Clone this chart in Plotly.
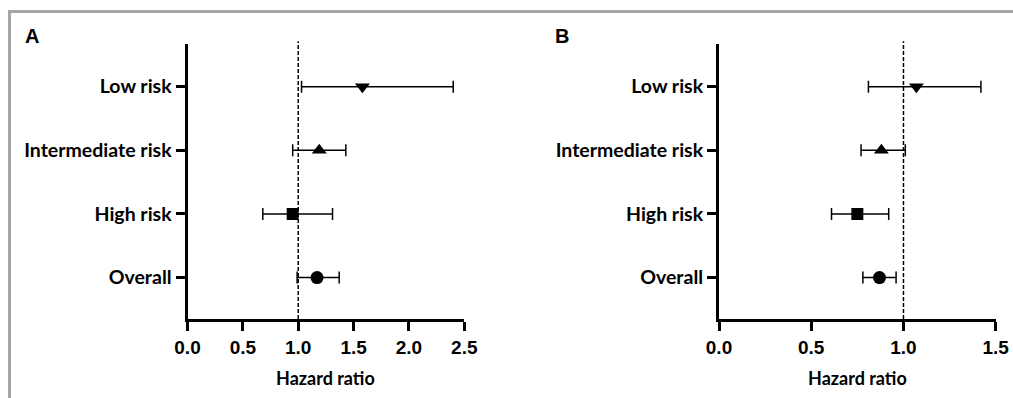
import plotly.graph_objects as go

# ---- data ----
categories = ["Overall", "High risk", "Intermediate risk", "Low risk"]

hr_a = [1.17, 0.95, 1.19, 1.58]
lo_a = [0.99, 0.68, 0.95, 1.03]
hi_a = [1.37, 1.31, 1.43, 2.40]

hr_b = [0.87, 0.75, 0.88, 1.07]
lo_b = [0.78, 0.61, 0.77, 0.81]
hi_b = [0.96, 0.92, 1.01, 1.42]

xticks_a = [0.0, 0.5, 1.0, 1.5, 2.0, 2.5]
xticks_b = [0.0, 0.5, 1.0, 1.5]
panel_labels = ["A", "B"]
x_title = "Hazard ratio"
ref_line = 1.0

# ---- style ----
W, H = 1013, 398
symbols = ["circle", "square", "triangle-up", "triangle-down"]
sizes = [13, 12, 13, 13]
CAT_FONT = dict(family="Lato", size=19.5, color="black", weight="bold")
NUM_FONT = dict(family="Liberation Sans", size=19, color="black", weight="bold")


def px_x(p):
    return p / W


def px_y(p):
    return 1 - p / H


fig = go.Figure()


def add_panel(hr, lo, hi, xa, ya):
    fig.add_trace(go.Scatter(
        x=hr, y=categories, mode="markers",
        xaxis=xa, yaxis=ya,
        marker=dict(symbol=symbols, size=sizes, color="black", opacity=1,
                    line=dict(width=0)),
        error_x=dict(type="data",
                     array=[h - v for h, v in zip(hi, hr)],
                     arrayminus=[v - l for v, l in zip(hr, lo)],
                     color="black", thickness=1.5, width=6),
        showlegend=False, hoverinfo="x+y",
    ))


add_panel(hr_a, lo_a, hi_a, "x", "y")
add_panel(hr_b, lo_b, hi_b, "x2", "y2")

ydom = [px_y(319), px_y(44)]
common_x = dict(showline=True, linewidth=3, linecolor="black", showgrid=False,
                zeroline=False, ticks="outside", ticklen=9, tickwidth=3,
                tickcolor="black", tickfont=NUM_FONT, tickformat=".1f",
                automargin=False)
common_y = dict(showline=True, linewidth=3, linecolor="black", showgrid=False,
                zeroline=False, ticks="outside", ticklen=9, tickwidth=3,
                tickcolor="black", tickfont=CAT_FONT, type="category",
                categoryorder="array", categoryarray=categories,
                range=[-0.65, 3.67], automargin=False)

fig.update_layout(
    template="none",
    width=W, height=H, autosize=False,
    margin=dict(l=0, r=0, t=0, b=0, pad=0),
    paper_bgcolor="white", plot_bgcolor="white",
    xaxis=dict(domain=[px_x(187.5), px_x(464.3)], range=[0, 2.5],
               tickvals=xticks_a, anchor="y", **common_x),
    yaxis=dict(domain=ydom, anchor="x", **common_y),
    xaxis2=dict(domain=[px_x(719), px_x(995.7)], range=[0, 1.5],
                tickvals=xticks_b, anchor="y2", **common_x),
    yaxis2=dict(domain=ydom, anchor="x2", **common_y),
)

# reference lines
for xr, yr in [("x", "y domain"), ("x2", "y2 domain")]:
    fig.add_shape(type="line", xref=xr, yref=yr, x0=ref_line, x1=ref_line,
                  y0=0, y1=1.01, line=dict(color="black", width=1.5, dash="4px,2px"),
                  layer="below")

# axis titles
for cx in [(187.5 + 464.3) / 2, (719 + 995.7) / 2]:
    fig.add_annotation(text=x_title, xref="paper", yref="paper",
                       x=px_x(cx), y=px_y(378), showarrow=False,
                       xanchor="center", yanchor="middle",
                       font=dict(family="Lato", size=18, color="black", weight="bold"))

# panel labels
for lab, lx in zip(panel_labels, [23, 553]):
    fig.add_annotation(text=lab, xref="paper", yref="paper",
                       x=px_x(lx), y=px_y(36), showarrow=False,
                       xanchor="left", yanchor="middle",
                       font=dict(family="Liberation Sans", size=20, color="black", weight="bold"))

# gray frame
frame = dict(color="#a6a6a6", width=3)
fig.add_shape(type="line", xref="paper", yref="paper",
              x0=px_x(8), x1=1, y0=px_y(11.5), y1=px_y(11.5), line=frame)
fig.add_shape(type="line", xref="paper", yref="paper",
              x0=px_x(9.5), x1=px_x(9.5), y0=0, y1=px_y(10), line=frame)

fig.write_html(
    "out.html",
    config={"displayModeBar": False, "responsive": False},
    post_script=("document.body.style.margin='0';"
                 "document.body.style.overflow='hidden';"
                 "document.documentElement.style.overflow='hidden';"),
)
